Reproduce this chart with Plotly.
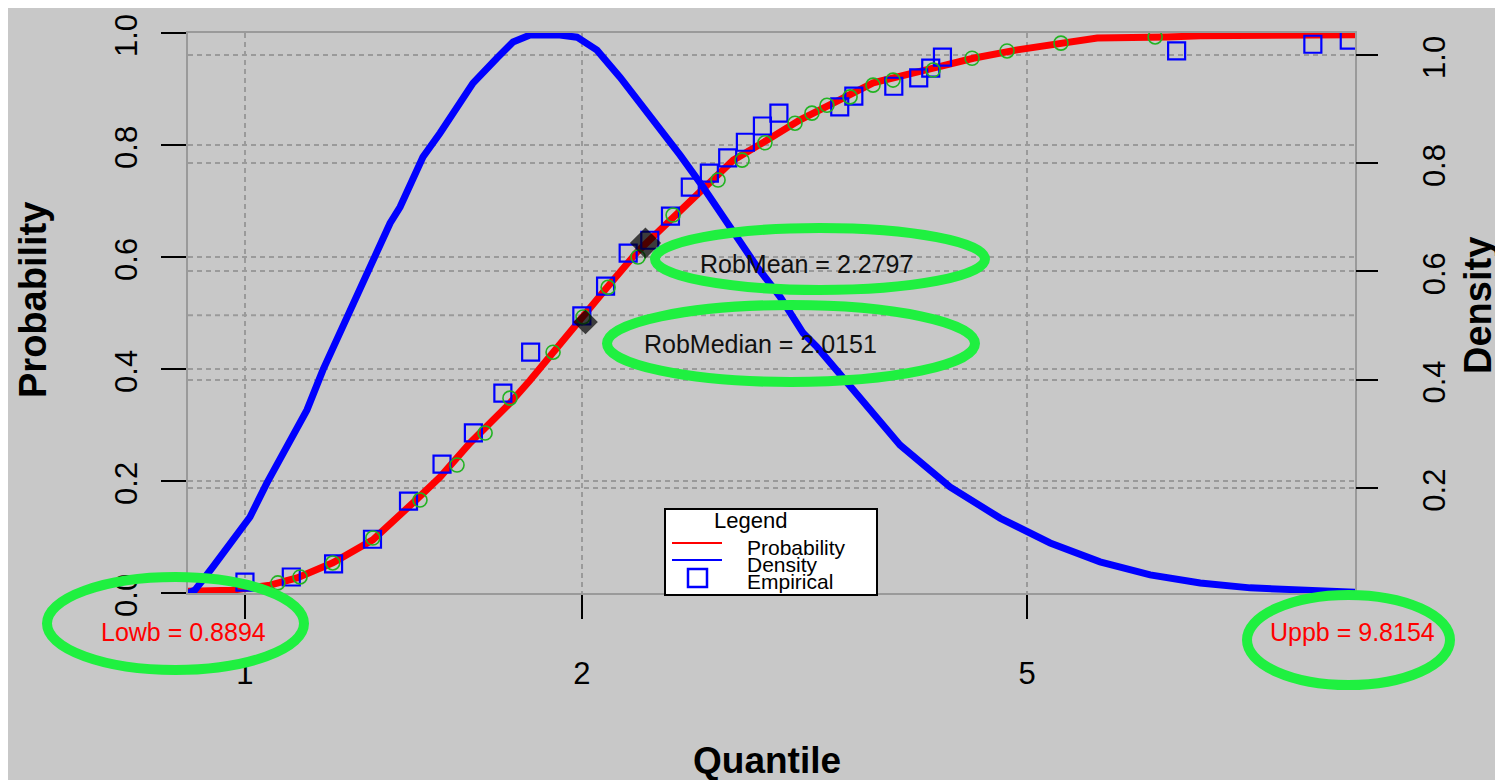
import math
import plotly.graph_objects as go

# ---------------- data ----------------
lowb = 0.8894
uppb = 9.8154
rob_mean = 2.2797
rob_median = 2.0151
p_at_mean = 0.625
p_at_median = 0.484

prob_x = [0.8894, 0.9736, 1.053, 1.113, 1.198, 1.301, 1.413, 1.494, 1.589, 1.725,
          1.798, 1.900, 1.993, 2.107, 2.241, 2.413, 2.567, 2.731, 2.929, 3.134,
          3.355, 3.642, 4.121, 4.475, 4.898, 5.352, 5.776, 6.673, 7.140, 9.8154]
prob_y = [0.003, 0.005, 0.014, 0.027, 0.054, 0.095, 0.161, 0.207, 0.268, 0.339,
          0.380, 0.439, 0.4875, 0.546, 0.609, 0.671, 0.725, 0.773, 0.809, 0.845,
          0.875, 0.911, 0.9375, 0.955, 0.970, 0.982, 0.991, 0.993, 0.995, 0.997]

dens_x = [0.8894, 0.9023, 0.9363, 0.9756, 1.0104, 1.0463, 1.0903, 1.1361, 1.1741, 1.2160,
          1.2490, 1.2851, 1.3204, 1.3479, 1.3759, 1.4128, 1.4422, 1.4940, 1.5470, 1.5987,
          1.6797, 1.7359, 1.7977, 1.9119, 1.9801, 2.0633, 2.1632, 2.3014, 2.4480, 2.5665,
          2.7303, 2.8688, 3.0074, 3.1530, 3.2451, 3.5443, 3.8484, 4.2658, 4.7290, 5.2421,
          5.8085, 6.4401, 7.1384, 7.9107, 8.7680, 9.8154]
dens_y = [0.005, 0.011, 0.054, 0.1035, 0.146, 0.209, 0.275, 0.344, 0.418, 0.486,
          0.5416, 0.597, 0.645, 0.689, 0.719, 0.7745, 0.8115, 0.856, 0.904, 0.948,
          0.9945, 1.024, 1.037, 1.037, 1.033, 1.009, 0.959, 0.889, 0.815, 0.756,
          0.671, 0.608, 0.553, 0.486, 0.460, 0.368, 0.279, 0.2015, 0.144, 0.098,
          0.063, 0.039, 0.024, 0.015, 0.011, 0.007]

emp_x = [1.0, 1.1, 1.2, 1.3, 1.4, 1.5, 1.6, 1.7, 1.8, 2.0, 2.1, 2.2, 2.3, 2.4, 2.5,
         2.6, 2.7, 2.8, 2.9, 3.0, 3.4, 3.5, 3.8, 4.0, 4.1, 4.2, 6.8, 9.0, 9.7]
emp_p = [0.0196, 0.0286, 0.052, 0.096, 0.164, 0.230, 0.286, 0.357, 0.430, 0.495,
         0.548, 0.607, 0.630, 0.673, 0.725, 0.750, 0.777, 0.805, 0.834, 0.857,
         0.868, 0.8875, 0.905, 0.920, 0.9375, 0.957, 0.968, 0.980, 0.9875]

fit_x = [1.070, 1.120, 1.198, 1.301, 1.4335, 1.547, 1.639, 1.725, 1.885, 2.005,
         2.111, 2.245, 2.413, 2.647, 2.781, 2.915, 3.101, 3.211, 3.312, 3.473,
         3.641, 3.794, 4.120, 4.464, 4.797, 5.360, 6.506]
fit_p = [0.018, 0.0286, 0.0536, 0.0982, 0.166, 0.2286, 0.2857, 0.348, 0.430, 0.493,
         0.546, 0.600, 0.675, 0.7375, 0.773, 0.804, 0.839, 0.857, 0.871, 0.886,
         0.907, 0.916, 0.934, 0.955, 0.968, 0.982, 0.993]

x_ticks = [1, 2, 5]
prob_ticks = [0.0, 0.2, 0.4, 0.6, 0.8, 1.0]
dens_ticks = [0.2, 0.4, 0.6, 0.8, 1.0]

# ---------------- layout geometry ----------------
# the page body adds an 8 px margin, so the figure is shrunk by that much
OFF = 8
W, H = 1503 - OFF, 780 - OFF
PLOT_L, PLOT_R, PLOT_T, PLOT_B = 188, 1355, 33, 593   # in window pixels
L, R, T, B = PLOT_L - OFF, W - (PLOT_R - OFF), PLOT_T - OFF, H - (PLOT_B - OFF)
PW, PH = PLOT_R - PLOT_L, PLOT_B - PLOT_T
BG = "#c8c8c8"
GRID = "#9a9a9a"
GREEN = "#1ff040"
FONT = "Liberation Sans, Arial, sans-serif"


def px(xw):
    return (xw - PLOT_L) / PW


def py(yw):
    return (PLOT_B - yw) / PH


fig = go.Figure()

fig.add_trace(go.Scatter(x=prob_x, y=prob_y, mode="lines", name="Probability",
                         line=dict(color="#ff0000", width=7), showlegend=False))
fig.add_trace(go.Scatter(x=emp_x, y=emp_p, mode="markers", name="Empirical",
                         marker=dict(symbol="square-open", size=17,
                                     color="#0000ff", line=dict(width=2.2, color="#0000ff")),
                         showlegend=False))
fig.add_trace(go.Scatter(x=fit_x, y=fit_p, mode="markers", name="Fitted",
                         marker=dict(symbol="circle-open", size=14,
                                     color="#22b322", line=dict(width=1.6, color="#22b322")),
                         showlegend=False))
fig.add_trace(go.Scatter(x=[rob_median, rob_mean], y=[p_at_median, p_at_mean], mode="markers",
                         marker=dict(symbol="diamond", size=[19, 24], color="black",
                                     line=dict(width=0)),
                         showlegend=False))
fig.add_trace(go.Scatter(x=dens_x, y=dens_y, mode="lines", name="Density", yaxis="y2",
                         line=dict(color="#0000ff", width=7), showlegend=False))

shapes = []
# extra dashed line at probability 0.5
shapes.append(dict(type="line", xref="paper", yref="y", x0=0, x1=1, y0=0.496, y1=0.496,
                   line=dict(color=GRID, width=2, dash="5px,4px"), layer="below"))

# green highlight ellipses (window-pixel boxes of the stroke centre)
for (x0, x1, y0, y1) in [(47, 304, 577, 670), (1247, 1450, 595, 685),
                         (655, 985, 228, 290), (607, 975, 305, 382)]:
    shapes.append(dict(type="circle", xref="paper", yref="paper",
                       x0=px(x0), x1=px(x1), y0=py(y1), y1=py(y0),
                       line=dict(color=GREEN, width=10), layer="above"))

# manual legend
shapes.append(dict(type="rect", xref="paper", yref="paper",
                   x0=px(665), x1=px(877), y0=py(595), y1=py(509),
                   fillcolor="white", line=dict(color="black", width=2), layer="above"))
shapes.append(dict(type="line", xref="paper", yref="paper",
                   x0=px(672), x1=px(722), y0=py(543), y1=py(543),
                   line=dict(color="#ff0000", width=2), layer="above"))
shapes.append(dict(type="line", xref="paper", yref="paper",
                   x0=px(672), x1=px(722), y0=py(560), y1=py(560),
                   line=dict(color="#0000ff", width=2), layer="above"))
shapes.append(dict(type="rect", xref="paper", yref="paper",
                   x0=px(688), x1=px(707), y0=py(587), y1=py(569),
                   line=dict(color="#0000ff", width=2.5), layer="above"))

ann = []


def text(xw, yw, s, size, color="black", bold=False, angle=0, xanchor="center"):
    ann.append(dict(xref="paper", yref="paper", x=px(xw), y=py(yw),
                    text=("<b>%s</b>" % s) if bold else s,
                    showarrow=False, textangle=angle, xanchor=xanchor, yanchor="middle",
                    font=dict(family=FONT, size=size, color=color)))


text(806, 264, "RobMean = %.4f" % rob_mean, 25, "#111111")
text(760, 344, "RobMedian = %.4f" % rob_median, 25, "#111111")
text(183, 632, "Lowb = %.4f" % lowb, 25, "#ff0000")
text(1352, 632, "Uppb = %.4f" % uppb, 25, "#ff0000")
text(767, 760, "Quantile", 37, bold=True)
text(33, 300, "Probability", 38, bold=True, angle=-90)
text(1478, 306, "Density", 38, bold=True, angle=-90)
text(750, 520, "Legend", 22)
text(745, 547, "Probability", 21, xanchor="left")
text(745, 564, "Density", 21, xanchor="left")
text(745, 581, "Empirical", 21, xanchor="left")

fig.update_layout(
    width=W, height=H,
    margin=dict(l=L, r=R, t=T, b=B, pad=0, autoexpand=False),
    paper_bgcolor=BG, plot_bgcolor=BG,
    font=dict(family=FONT, size=30, color="black"),
    showlegend=False,
    shapes=shapes, annotations=ann,
    xaxis=dict(type="log", range=[math.log10(lowb), math.log10(uppb)],
               tickvals=x_ticks, ticktext=[str(v) for v in x_ticks],
               ticks="outside", ticklen=24, tickwidth=2, tickcolor="black",
               showline=True, linecolor=GRID, linewidth=2, mirror=True,
               showgrid=True, gridcolor=GRID, gridwidth=2, griddash="5px,4px",
               zeroline=False, tickfont=dict(size=31), ticklabelstandoff=28,
               ticklabeloverflow="allow", automargin=False),
    yaxis=dict(range=[0, 1.0001], tickvals=prob_ticks, ticktext=["%.1f" % v for v in prob_ticks],
               ticks="outside", ticklen=25, tickwidth=2, tickcolor="black",
               showline=True, linecolor=GRID, linewidth=2, mirror=True,
               showgrid=True, gridcolor=GRID, gridwidth=2, griddash="5px,4px",
               zeroline=False, tickangle=-90, tickfont=dict(size=31), ticklabelstandoff=12,
               ticklabelshift=7, ticklabeloverflow="allow", automargin=False),
    yaxis2=dict(overlaying="y", side="right", range=[0.0055, 1.0407],
                tickvals=dens_ticks, ticktext=["%.1f" % v for v in dens_ticks],
                ticks="outside", ticklen=22, tickwidth=2, tickcolor="black",
                showline=False, showgrid=True, gridcolor=GRID, gridwidth=2, griddash="5px,4px",
                zeroline=False, tickangle=-90, tickfont=dict(size=31), ticklabelstandoff=30,
                ticklabelshift=7, ticklabeloverflow="allow", automargin=False),
)

fig.write_html("out.html")
